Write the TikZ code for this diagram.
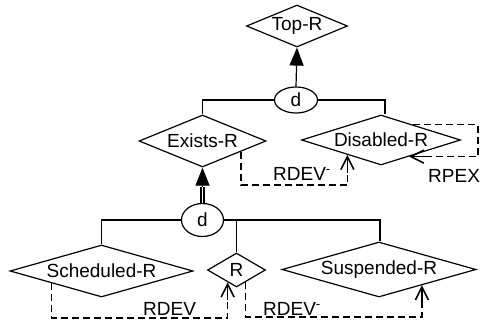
\documentclass[tikz,border=0pt]{standalone}
\usepackage{fontspec}
\setmainfont{Liberation Sans}
\usetikzlibrary{shapes.geometric,arrows.meta,calc}
\begin{document}
\begin{tikzpicture}[x=1pt,y=-1pt,
  every node/.style={font=\fontsize{19}{21}\selectfont},
  rel/.style={diamond,draw,line width=1.2pt,inner sep=0pt},
  gen/.style={ellipse,draw,line width=1.2pt,inner sep=0pt},
  ln/.style={line width=1.2pt},
  dsh/.style={line width=1.2pt,dash pattern=on 7pt off 4pt},
  barb/.style={line width=1.6pt,-{Straight Barb[length=13pt,width=13pt]}},
  fill arrow/.style={-{Triangle[length=18pt,width=14pt]}},
  lbl/.style={anchor=base west,inner sep=0pt}
]
\clip (0,0) rectangle (481,326);
\useasboundingbox (0,0) rectangle (481,326);

% relationship nodes
\node[rel,minimum width=101pt,minimum height=42pt,aspect=2.4] (top) at (297,26) {Top-R};
\node[gen,minimum width=43pt,minimum height=26pt] (d1) at (296,100) {d};
\node[rel,minimum width=127pt,minimum height=52pt,aspect=2.44] (exists) at (202.5,141) {Exists-R};
\node[rel,minimum width=159pt,minimum height=50pt,aspect=3.18] (disabled) at (381,140) {Disabled-R};
\node[gen,minimum width=42pt,minimum height=33pt] (d2) at (202.5,220) {d};
\node[rel,minimum width=183pt,minimum height=52pt,aspect=3.52] (sched) at (101.5,271) {Scheduled-R};
\node[rel,minimum width=58pt,minimum height=34pt,aspect=1.7] (R) at (236.5,270) {R};
\node[rel,minimum width=194pt,minimum height=55pt,aspect=3.53] (susp) at (379,269.5) {Suspended-R};

% upper generalisation
\draw[ln,fill arrow] (d1.north) -- (top.south);
\coordinate (dj) at (385,100);
\draw[ln] (d1.west) -- (exists.north |- d1.west) -- (exists.north);
\draw[ln] (d1.east) -- (dj) -- (dj |- disabled.north);

% lower generalisation
\coordinate (m) at (202.5,187);
\draw[ln,double,double distance=1.8pt] (d2.north) -- (m);
\draw[ln,fill arrow] (m) -- (exists.south);
\coordinate (lj) at (380,220);
\draw[ln] (d2.west) -- (sched.north |- d2.west) -- (sched.north);
\draw[ln] (d2.east) -- (lj) -- (lj |- susp.north);
\draw[ln] (R.north |- d2.east) -- (R.north);

% dashed relations
\coordinate (y1) at (0,185);
\coordinate (e1) at ($(exists.south)!0.6!(exists.east)$);
\coordinate (a1) at ($(disabled.west)!0.58!(disabled.south)$);
\coordinate (a1s) at ($(a1)+(0,18)$);
\draw[dsh] (e1) -- (e1 |- y1) -- (a1 |- y1) -- (a1s);
\draw[barb] (a1s) -- (a1);
\node[lbl] (t1) at (273,180) {RDEV\textsuperscript{-}};

\coordinate (rx) at (478,0);
\coordinate (p1) at ($(disabled.north)!0.4!(disabled.east)$);
\coordinate (p2) at ($(disabled.east)!0.65!(disabled.south)$);
\coordinate (p2s) at ($(p2)+(18,0)$);
\draw[dsh] (p1) -- (p1 -| rx) -- (p2 -| rx) -- (p2s);
\draw[barb] (p2s) -- (p2);
\node[lbl] (t2) at (428,182) {RPEX};

\coordinate (y2) at (0,318);
\coordinate (s1) at ($(sched.west)!0.46!(sched.south)$);
\coordinate (b1) at ($(R.west)!0.7!(R.south)$);
\coordinate (b1s) at ($(b1)+(0,18)$);
\draw[dsh] (s1) -- (s1 |- y2) -- (b1 |- y2) -- (b1s);
\draw[barb] (b1s) -- (b1);
\node[lbl] (t3) at (143,315) {RDEV};

\coordinate (y3) at (0,317);
\coordinate (s2) at ($(R.south)!0.3!(R.east)$);
\coordinate (b2) at ($(susp.south)!0.44!(susp.east)$);
\coordinate (b2s) at ($(b2)+(0,18)$);
\draw[dsh] (s2) -- (s2 |- y3) -- (b2 |- y3) -- (b2s);
\draw[barb] (b2s) -- (b2);
\node[lbl] (t4) at (263,315) {RDEV\textsuperscript{-}};
\end{tikzpicture}
\end{document}
